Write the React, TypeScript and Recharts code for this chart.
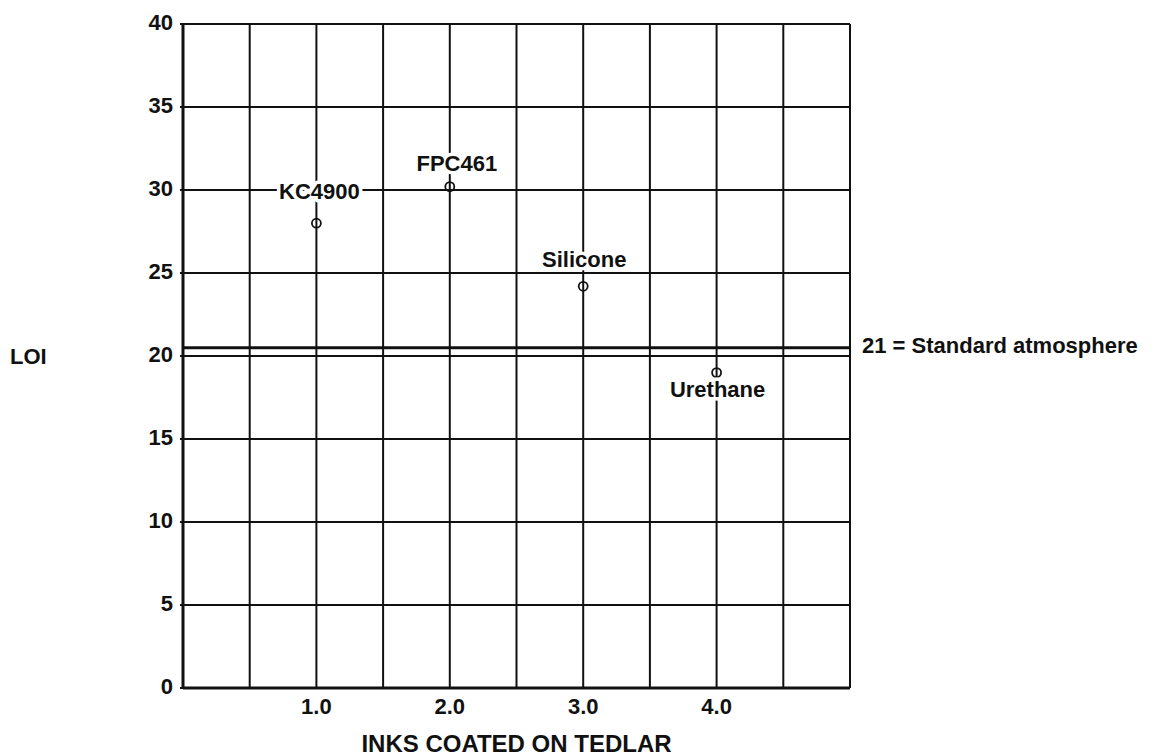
import React from 'react';
import {
  ScatterChart,
  Scatter,
  XAxis,
  YAxis,
  CartesianGrid,
  ReferenceLine,
} from 'recharts';

// values
const inkNames = ['KC4900', 'FPC461', 'Silicone', 'Urethane'];
const inkPositions = [1.0, 2.0, 3.0, 4.0];
const loiValues = [28.0, 30.2, 24.2, 19.0];

const xGridTicks = [0, 0.5, 1, 1.5, 2, 2.5, 3, 3.5, 4, 4.5, 5];
const xLabelTicks = [1, 2, 3, 4];
const xTickLabels = ['1.0', '2.0', '3.0', '4.0'];
const yTicks = [0, 5, 10, 15, 20, 25, 30, 35, 40];

// the original draws the "21" line just above the 20 grid line
const standardAtmosphereLine = 20.5;
const standardAtmosphereLabel = '21 = Standard atmosphere';

const inkData = inkNames.map((name, i) => ({
  name,
  x: inkPositions[i],
  loi: loiValues[i],
}));

const FONT = '"Liberation Sans", Arial, Helvetica, sans-serif';
const INK = '#111';

// where each point's name sits relative to the marker
const labelOffset: Record<string, [number, number]> = {
  KC4900: [3, -32],
  FPC461: [7, -23],
  Silicone: [1, -27],
  Urethane: [1, 17],
};

function InkPoint(props: any) {
  const { cx, cy, payload } = props;
  if (cx == null || cy == null) return null;
  const [dx, dy] = labelOffset[payload.name] || [0, -25];
  return (
    <g>
      <circle cx={cx} cy={cy} r={4.5} fill="none" stroke={INK} strokeWidth={1.8} />
      <text
        x={cx + dx}
        y={cy + dy}
        textAnchor="middle"
        dominantBaseline="central"
        fontFamily={FONT}
        fontWeight="bold"
        fontSize={22}
        fill={INK}
        stroke="#fff"
        strokeWidth={7}
        strokeLinejoin="round"
        paintOrder="stroke"
      >
        {payload.name}
      </text>
    </g>
  );
}

const formatXTick = (v: number) => {
  const i = xLabelTicks.indexOf(v);
  return i >= 0 ? xTickLabels[i] : '';
};

export default function App() {
  return (
    <div style={{ position: 'absolute', left: 0, top: 0, background: '#fff' }}>
      <ScatterChart
        width={1168}
        height={756}
        margin={{ top: 24, right: 318, bottom: 38, left: 0 }}
      >
        <CartesianGrid stroke={INK} strokeWidth={2} fill="none" />
        <XAxis
          type="number"
          dataKey="x"
          domain={[0, 5]}
          ticks={xGridTicks}
          interval={0}
          tickFormatter={formatXTick}
          height={30}
          axisLine={{ stroke: INK, strokeWidth: 3 }}
          tickLine={false}
          tickSize={6}
          tickMargin={4}
          tick={{ fill: INK, fontSize: 22, fontWeight: 'bold', fontFamily: FONT }}
          label={{
            value: 'INKS COATED ON TEDLAR',
            position: 'bottom',
            offset: 17,
            fill: INK,
            fontSize: 24,
            fontWeight: 'bold',
            fontFamily: FONT,
          }}
        />
        <YAxis
          type="number"
          dataKey="loi"
          domain={[0, 40]}
          ticks={yTicks}
          interval={0}
          width={183}
          axisLine={{ stroke: INK, strokeWidth: 3 }}
          tickLine={{ stroke: INK, strokeWidth: 2 }}
          tickSize={3}
          tickMargin={7}
          tick={{ fill: INK, fontSize: 22, fontWeight: 'bold', fontFamily: FONT, dy: -2 }}
          label={{
            value: 'LOI',
            position: 'insideLeft',
            offset: 10,
            fill: INK,
            fontSize: 22,
            fontWeight: 'bold',
            fontFamily: FONT,
          }}
        />
        <ReferenceLine
          y={standardAtmosphereLine}
          stroke={INK}
          strokeWidth={3}
          label={{
            value: standardAtmosphereLabel,
            position: 'right',
            offset: 12,
            fill: INK,
            fontSize: 22,
            fontWeight: 'bold',
            fontFamily: FONT,
            dy: -3,
          }}
        />
        <Scatter data={inkData} shape={InkPoint} isAnimationActive={false} />
      </ScatterChart>
    </div>
  );
}
